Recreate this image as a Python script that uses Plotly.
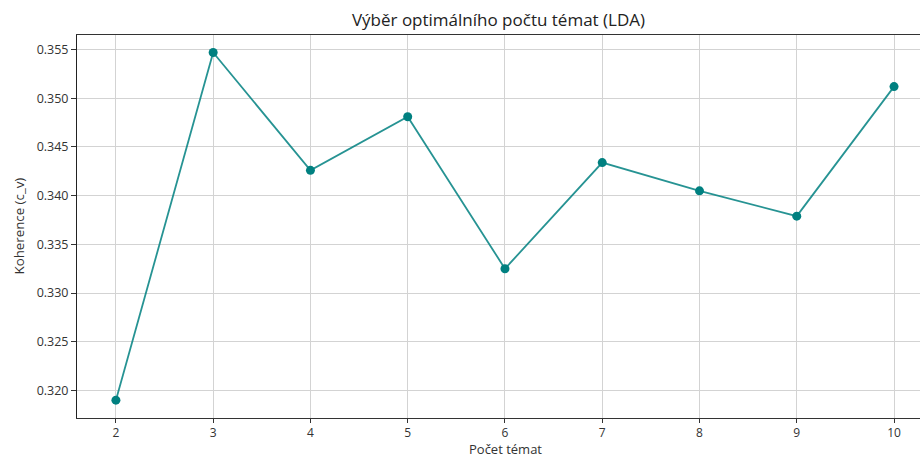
import plotly.graph_objects as go

topics = [2, 3, 4, 5, 6, 7, 8, 9, 10]
coherence = [0.3190, 0.3547, 0.3426, 0.3481, 0.3325, 0.3434, 0.3405, 0.3379, 0.3512]
y_ticks = [0.320, 0.325, 0.330, 0.335, 0.340, 0.345, 0.350, 0.355]
x_ticks = [2, 3, 4, 5, 6, 7, 8, 9, 10]

FONT = "Open Sans"
W, H = 920, 457
ML, MR, MT, MB = 77, 0, 35, 39
PW, PH = W - ML - MR, H - MT - MB

fig = go.Figure()
fig.add_trace(go.Scatter(
    x=topics, y=coherence, mode="lines+markers",
    line=dict(color="rgba(0,128,128,0.85)", width=1.8),
    marker=dict(color="#008080", size=9),
    showlegend=False,
))

fig.update_layout(
    width=W, height=H,
    margin=dict(l=ML, r=MR, t=MT, b=MB),
    paper_bgcolor="white", plot_bgcolor="white",
    font=dict(family=FONT, color="#333333", size=12),
    title=dict(text="Výběr optimálního počtu témat (LDA)", x=0.5, xref="paper",
               y=1 - 20/H, yanchor="middle",
               font=dict(family=FONT, size=17, color="#222222")),
)
fig.update_xaxes(
    range=[1.6, 10.267], tickvals=x_ticks, ticktext=[str(v) for v in x_ticks],
    showgrid=True, gridcolor="#d3d3d3", gridwidth=1,
    showline=True, linecolor="#333333", linewidth=1, mirror=True,
    ticks="outside", ticklen=4, tickcolor="#333333",
    zeroline=False, automargin=False,
    tickfont=dict(size=12),
)
fig.update_yaxes(
    range=[0.31717, 0.35650], tickvals=y_ticks, ticktext=[f"{v:.3f}" for v in y_ticks],
    showgrid=True, gridcolor="#d3d3d3", gridwidth=1,
    showline=True, linecolor="#222222", linewidth=1, mirror=False,
    ticks="outside", ticklen=5, tickcolor="#333333",
    zeroline=False, automargin=False,
    tickfont=dict(size=12.5),
)

# axis titles placed as annotations to match the reference positions
fig.add_annotation(text="Počet témat", xref="paper", yref="paper",
                   x=(505 - ML) / PW, y=(H - MB - 449) / PH,
                   xanchor="center", yanchor="middle", showarrow=False, borderpad=0,
                   font=dict(family=FONT, size=13, color="#333333"))
fig.add_annotation(text="Koherence (c_v)", xref="paper", yref="paper",
                   x=(18 - ML) / PW, y=0.5, textangle=-90,
                   xanchor="center", yanchor="middle", showarrow=False, borderpad=0,
                   font=dict(family=FONT, size=13.3, color="#333333"))

fig.write_html("out.html")
